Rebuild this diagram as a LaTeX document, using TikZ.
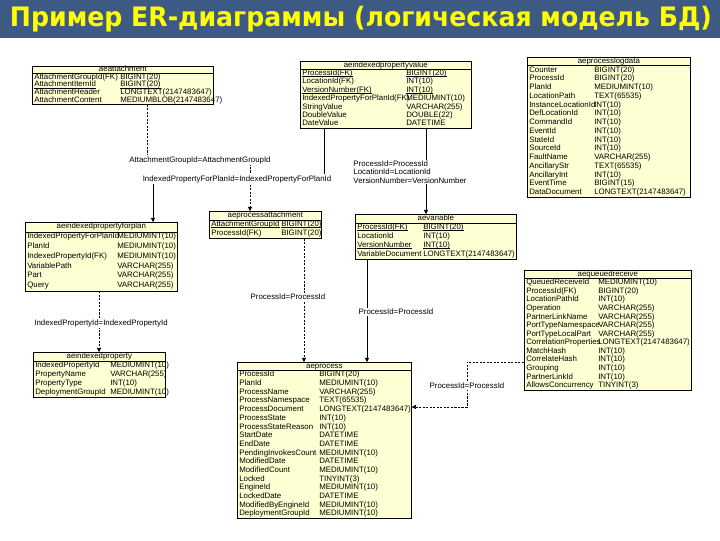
\documentclass[tikz,border=0pt]{standalone}
\usepackage{fontspec}
\setsansfont{Liberation Sans}
\newfontfamily\titlefont{DejaVu Sans}
\usepackage{graphicx}
\usetikzlibrary{arrows.meta,calc}

\newlength{\px}
\setlength{\px}{0.025cm}

\definecolor{erfill}{RGB}{255,255,212}
\definecolor{bandblue}{RGB}{61,90,133}
\definecolor{titleyellow}{RGB}{255,255,0}

\newcommand{\fieldfont}{\sffamily\fontsize{5.6pt}{6pt}\selectfont}
% thin underline for key fields
\newcommand{\pk}[1]{\setbox0\hbox{#1}\rlap{\rule[-0.9pt]{\wd0}{0.25pt}}\box0}

\tikzset{
  entity/.style={draw, line width=0.5pt, fill=erfill, anchor=north west, inner sep=0pt},
  field/.style={anchor=west, inner sep=0pt, text height=4pt, text depth=1.2pt, font=\fieldfont},
  idrel/.style={line width=0.45pt, -{Triangle[length=3pt,width=3pt]}},
  fkrel/.style={idrel, dash pattern=on 1.5pt off 1pt},
  rellabel/.style={fill=white, inner sep=0.8pt, align=left, font=\fieldfont},
}

% header line, table name and rows of a table
\newcommand{\fields}[5]{%
  \draw[line width=0.4pt] ($(#1.north west)+(0,#3)$) -- ($(#1.north east)+(0,#3)$);
  \node[field, anchor=center] at ($(#1.north)+(0,#3/2)$) {#4};
  \foreach \col/\typ [count=\i] in {#5} {
    \node[field] at ($(#1.north west)+(2,{(\i+0.5)*#3})$) {\col};
    \node[field] at ($(#1.north west)+(#2,{(\i+0.5)*#3})$) {\typ};
  }%
}

\begin{document}
\begin{tikzpicture}[x=\px, y=-\px]
\useasboundingbox (0,0) rectangle (720,540);
\fill[white] (0,0) rectangle (720,540);

% title band
\fill[bandblue] (0,0) rectangle (720,38);
\node[text=titleyellow, font=\titlefont\bfseries\fontsize{19pt}{20pt}\selectfont] (title) at (361,19)
  {\resizebox{702\px}{\height}{Пример ER-диаграммы (логическая модель БД)}};

% tables (manual placement)
\node[entity, minimum width=181\px, minimum height=38\px] (attach) at (32,66) {};
\node[entity, minimum width=171\px, minimum height=67.2\px] (propval) at (300,61) {};
\node[entity, minimum width=163\px, minimum height=140\px] (logdata) at (527,57) {};
\node[entity, minimum width=112\px, minimum height=27\px] (procattach) at (209,211) {};
\node[entity, minimum width=161\px, minimum height=45\px] (variable) at (355,214) {};
\node[entity, minimum width=152\px, minimum height=68.6\px] (propplan) at (25,222) {};
\node[entity, minimum width=132\px, minimum height=45\px] (indprop) at (33,352) {};
\node[entity, minimum width=174\px, minimum height=156\px] (process) at (237,362) {};
\node[entity, minimum width=167\px, minimum height=120\px] (queued) at (524,270) {};

\fields{attach}{88}{7.6}{aeattachment}{
  AttachmentGroupId(FK)/BIGINT(20),
  \pk{AttachmentItemId}/\pk{BIGINT(20)},
  AttachmentHeader/LONGTEXT(2147483647),
  AttachmentContent/MEDIUMBLOB(2147483647)}
\fields{propval}{106}{8.4}{aeindexedpropertyvalue}{
  \pk{ProcessId(FK)}/\pk{BIGINT(20)},
  LocationId(FK)/INT(10),
  \pk{VersionNumber(FK)}/\pk{INT(10)},
  IndexedPropertyForPlanId(FK)/MEDIUMINT(10),
  StringValue/VARCHAR(255),
  DoubleValue/DOUBLE(22),
  DateValue/DATETIME}
\fields{logdata}{67}{8.75}{aeprocesslogdata}{
  Counter/BIGINT(20), ProcessId/BIGINT(20), PlanId/MEDIUMINT(10),
  LocationPath/TEXT(65535), InstanceLocationId/INT(10), DefLocationId/INT(10),
  CommandId/INT(10), EventId/INT(10), StateId/INT(10), SourceId/INT(10),
  FaultName/VARCHAR(255), AncillaryStr/TEXT(65535), AncillaryInt/INT(10),
  EventTime/BIGINT(15), DataDocument/LONGTEXT(2147483647)}
\fields{procattach}{72}{9}{aeprocessattachment}{
  \pk{AttachmentGroupId}/\pk{BIGINT(20)},
  ProcessId(FK)/BIGINT(20)}
\fields{variable}{68}{9}{aevariable}{
  \pk{ProcessId(FK)}/\pk{BIGINT(20)},
  LocationId/INT(10),
  \pk{VersionNumber}/\pk{INT(10)},
  VariableDocument/LONGTEXT(2147483647)}
\fields{propplan}{92}{9.8}{aeindexedpropertyforplan}{
  IndexedPropertyForPlanId/MEDIUMINT(10), PlanId/MEDIUMINT(10),
  IndexedPropertyId(FK)/MEDIUMINT(10), VariablePath/VARCHAR(255),
  Part/VARCHAR(255), Query/VARCHAR(255)}
\fields{indprop}{77}{9}{aeindexedproperty}{
  IndexedPropertyId/MEDIUMINT(10), PropertyName/VARCHAR(255),
  PropertyType/INT(10), DeploymentGroupId/MEDIUMINT(10)}
\fields{process}{82}{8.67}{aeprocess}{
  ProcessId/BIGINT(20), PlanId/MEDIUMINT(10), ProcessName/VARCHAR(255),
  ProcessNamespace/TEXT(65535), ProcessDocument/LONGTEXT(2147483647),
  ProcessState/INT(10), ProcessStateReason/INT(10), StartDate/DATETIME,
  EndDate/DATETIME, PendingInvokesCount/MEDIUMINT(10), ModifiedDate/DATETIME,
  ModifiedCount/MEDIUMINT(10), Locked/TINYINT(3), EngineId/MEDIUMINT(10),
  LockedDate/DATETIME, ModifiedByEngineId/MEDIUMINT(10),
  DeploymentGroupId/MEDIUMINT(10)}
\fields{queued}{74}{8.57}{aequeuedreceive}{
  QueuedReceiveId/MEDIUMINT(10), ProcessId(FK)/BIGINT(20),
  LocationPathId/INT(10), Operation/VARCHAR(255), PartnerLinkName/VARCHAR(255),
  PortTypeNamespace/VARCHAR(255), PortTypeLocalPart/VARCHAR(255),
  CorrelationProperties/LONGTEXT(2147483647), MatchHash/INT(10),
  CorrelateHash/INT(10), Grouping/INT(10), PartnerLinkId/INT(10),
  AllowsConcurrency/TINYINT(3)}

% relations
\coordinate (g1) at (147,160);
\coordinate (g2) at (250,160);
\draw[fkrel] (attach.south -| g1) -- (g1) -- (g2) -- (procattach.north -| g2);
\coordinate (p1) at (324,179);
\coordinate (p2) at (153,179);
\draw[idrel] (propval.south -| p1) -- (p1) -- (p2) -- (propplan.north -| p2);
\coordinate (v1) at (426,190);
\draw[idrel] (propval.south -| v1) -- (variable.north -| v1);
\coordinate (i1) at (99,320);
\draw[fkrel] (propplan.south -| i1) -- (indprop.north -| i1);
\coordinate (a1) at (304,300);
\draw[fkrel] (procattach.south -| a1) -- (process.north -| a1);
\coordinate (a2) at (367,300);
\draw[idrel] (variable.south -| a2) -- (process.north -| a2);
\coordinate (q1) at (467,362);
\coordinate (q2) at (467,407);
\draw[fkrel] (queued.west |- q1) -- (q1) -- (q2) -- (process.east |- q2);

% relation labels
\node[rellabel] (lgroup) at (200,160) {AttachmentGroupId=AttachmentGroupId};
\node[rellabel] (lplan) at (237,179) {IndexedPropertyForPlanId=IndexedPropertyForPlanId};
\node[rellabel] (lvar) at (410,172) {ProcessId=ProcessId\\LocationId=LocationId\\VersionNumber=VersionNumber};
\node[rellabel] (lprop) at (101,323) {IndexedPropertyId=IndexedPropertyId};
\node[rellabel] (lproca) at (288,297) {ProcessId=ProcessId};
\node[rellabel] (lprocb) at (396,312) {ProcessId=ProcessId};
\node[rellabel] (lqueue) at (467,386) {ProcessId=ProcessId};
\end{tikzpicture}
\end{document}
